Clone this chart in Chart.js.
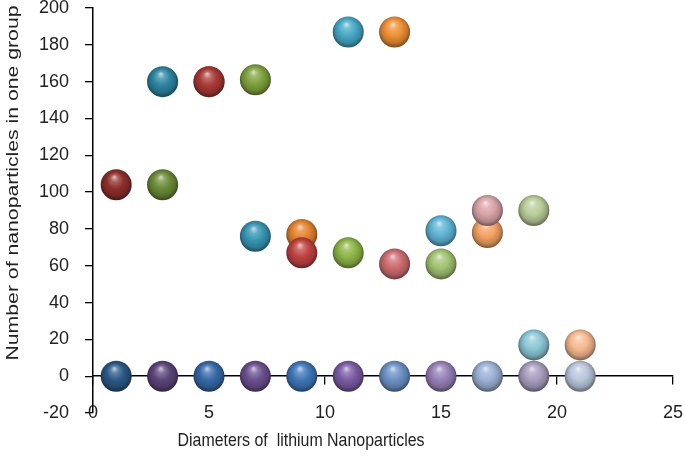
<!DOCTYPE html>
<html><head><meta charset="utf-8">
<script src="https://cdn.jsdelivr.net/npm/chart.js@4.4.1/dist/chart.umd.min.js"></script>
<style>html,body{margin:0;padding:0;background:#fff;}</style>
</head><body>
<canvas id="c" width="685" height="463"></canvas>
<script>
// ---- data ----
const xTitle = 'Diameters of  lithium Nanoparticles';
const yTitle = 'Number of nanoparticles in one group';
const xMin = 0, xMax = 25, xStep = 5;
const yMin = -20, yMax = 200, yStep = 20;

const redX = [1, 5, 9, 13, 17];
const redY = [104, 160, 67, 61, 90];
const purpleX = [3, 7, 11, 15, 19];
const purpleY = [0, 0, 0, 0, 0];
const blueX = [1, 5, 9, 13, 17, 21];
const blueY = [0, 0, 0, 0, 0, 0];
const greenX = [3, 7, 11, 15, 19];
const greenY = [104, 161, 67, 61, 90];
const tealX = [3, 7, 11, 15, 19];
const tealY = [160, 76, 187, 79, 17];
const orangeX = [5, 9, 13, 17, 21];
const orangeY = [160, 77, 187, 78, 17];

// ---- styles ----
const redColors = ['#8C2E2B', '#A83835', '#BE423F', '#CC6B6E', '#D9A3A8'];
const purpleColors = ['#5A4479', '#6A4F8E', '#7A5BA3', '#9580B6', '#A89DBE'];
const blueColors = ['#2B5886', '#3469A6', '#3D76B8', '#6B90C6', '#9AB0D4', '#B8C6DC'];
const greenColors = ['#6A8A35', '#7DA23C', '#8DB545', '#A2C270', '#B9CC98'];
const tealColors = ['#2B84A0', '#3795B3', '#45A8C6', '#5FB5D6', '#8BC7D6'];
const orangeColors = ['#D7772A', '#E4822C', '#EE8F33', '#F3A262', '#F5B890'];

const R = 15.5;
const FONT = '"Liberation Sans", Arial, sans-serif';

function hexToRgb(h) {
  const n = parseInt(h.slice(1), 16);
  return [(n >> 16) & 255, (n >> 8) & 255, n & 255];
}
function mixc(h, target, t) {
  const c = hexToRgb(h);
  const r = c.map((v, i) => Math.round(v + (target[i] - v) * t));
  return 'rgb(' + r.join(',') + ')';
}
function sphereFill(colors) {
  return (ctx) => {
    const base = colors[ctx.dataIndex % colors.length];
    if (ctx.type !== 'data') return base;
    const ch = ctx.chart;
    const xs = ch.scales.x, ys = ch.scales.y;
    if (!xs || !ys) return base;
    const px = xs.getPixelForValue(ctx.raw.x);
    const py = ys.getPixelForValue(ctx.raw.y);
    if (!isFinite(px) || !isFinite(py)) return base;
    const g = ch.ctx.createRadialGradient(px - R * 0.12, py - R * 0.5, R * 0.04, px, py - R * 0.05, R * 1.02);
    g.addColorStop(0, mixc(base, [255, 255, 255], 0.65));
    g.addColorStop(0.2, mixc(base, [255, 255, 255], 0.25));
    g.addColorStop(0.52, base);
    g.addColorStop(0.82, mixc(base, [0, 0, 0], 0.18));
    g.addColorStop(1, mixc(base, [0, 0, 0], 0.45));
    return g;
  };
}
function pts(xs, ys) { return xs.map((x, i) => ({ x: x, y: ys[i] })); }
function ds(label, xs, ys, colors) {
  return {
    label: label,
    data: pts(xs, ys),
    backgroundColor: sphereFill(colors),
    borderWidth: 0,
    pointRadius: R,
    pointHoverRadius: R,
    clip: false
  };
}

const titlePlugin = {
  id: 'titles',
  afterDraw(chart) {
    const c = chart.ctx;
    c.save();
    c.fillStyle = '#222';
    c.font = '16px ' + FONT;
    c.textAlign = 'center';
    c.textBaseline = 'middle';
    c.save();
    c.translate(301, 441);
    const wx = c.measureText(xTitle).width;
    c.scale(247 / wx, 1.2);
    c.fillText(xTitle, 0, 0);
    c.restore();
    c.translate(13, 183);
    c.rotate(-Math.PI / 2);
    const w = c.measureText(yTitle).width;
    c.scale(355 / w, 1.08);
    c.fillText(yTitle, 0, 0);
    c.restore();
  }
};

new Chart(document.getElementById('c'), {
  type: 'scatter',
  data: {
    datasets: [
      ds('red', redX, redY, redColors),
      ds('purple', purpleX, purpleY, purpleColors),
      ds('blue', blueX, blueY, blueColors),
      ds('green', greenX, greenY, greenColors),
      ds('teal', tealX, tealY, tealColors),
      ds('orange', orangeX, orangeY, orangeColors)
    ]
  },
  options: {
    responsive: false,
    animation: false,
    events: [],
    layout: { autoPadding: false, padding: { top: 0, right: 12, left: 0, bottom: 0 } },
    plugins: { legend: { display: false }, tooltip: { enabled: false } },
    scales: {
      x: {
        type: 'linear', position: 'bottom', min: xMin, max: xMax,
        ticks: { stepSize: xStep, display: false },
        grid: { display: false, drawTicks: false },
        border: { display: false },
        afterFit(s) { s.height = 50; s.paddingLeft = 0; s.paddingRight = 0; }
      },
      x2: {
        type: 'linear', axis: 'x', position: { y: 0 }, min: xMin, max: xMax,
        ticks: { stepSize: xStep, padding: 18, color: '#222', font: { family: FONT, size: 18 } },
        grid: { drawOnChartArea: false, drawTicks: true, tickLength: 8, color: '#000', lineWidth: 1.3 },
        border: { display: true, color: '#000', width: 1.5 },
        afterFit(s) { s.paddingLeft = 0; s.paddingRight = 0; }
      },
      y: {
        type: 'linear', position: 'left', min: yMin, max: yMax,
        ticks: { stepSize: yStep, padding: 16, color: '#222', font: { family: FONT, size: 18, lineHeight: 1 } },
        grid: { drawOnChartArea: false, drawTicks: true, tickLength: 8, color: '#000', lineWidth: 1.3 },
        border: { display: true, color: '#000', width: 1.5 },
        afterFit(s) { s.width = 93; s.paddingTop = 8; s.paddingBottom = 0; }
      }
    }
  },
  plugins: [titlePlugin]
});
</script>
</body></html>
